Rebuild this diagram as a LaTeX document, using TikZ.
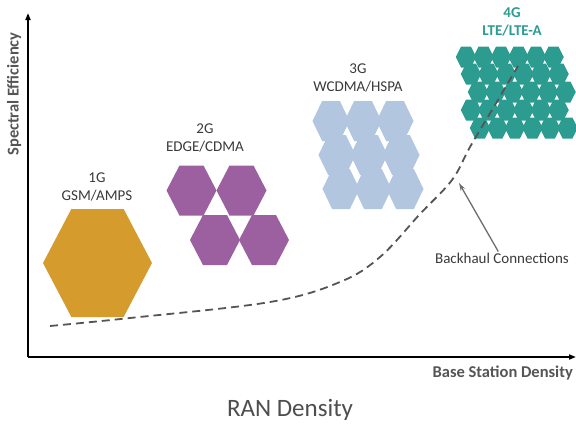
\documentclass[tikz,border=0pt]{standalone}
\usepackage{fontspec}
\setmainfont{Carlito}
\usetikzlibrary{arrows.meta,calc,positioning}
\definecolor{RanGold}{HTML}{D59B2D}
\definecolor{RanPurple}{HTML}{9C5FA0}
\definecolor{RanSky}{HTML}{B3C6DF}
\definecolor{RanTeal}{HTML}{2C9C91}
\definecolor{RanInk}{HTML}{3A3A3A}
\definecolor{RanGrey}{HTML}{555555}
\definecolor{RanDash}{HTML}{555555}

\begin{document}
\begin{tikzpicture}[x=1pt, y=-1pt,
    every node/.style={font=\fontsize{15}{18}\selectfont, text=RanInk, inner sep=1pt},
    hexcell/.pic={\fill[pic actions] (-0.5,0) -- (-0.24,-0.5) -- (0.24,-0.5) -- (0.5,0) -- (0.24,0.5) -- (-0.24,0.5) -- cycle;},
    gen/.style={align=center},
    axislabel/.style={font=\fontsize{16.5}{18}\selectfont\bfseries, text=RanGrey}]
    \useasboundingbox (0,0) rectangle (576,426);

    % axes
    \coordinate (origin) at (28,357);
    \coordinate (ytop) at (28,13);
    \coordinate (xend) at (576,357);
    \draw[-{Triangle[length=7pt,width=5pt]}, line width=2pt] (origin) -- (ytop);
    \draw[-{Triangle[length=7pt,width=5pt]}, line width=2pt] (origin) -- (xend);
    \node[axislabel, rotate=90] (ylab) at (14,94) {Spectral Efficiency};
    \node[axislabel, anchor=east] (xlab) at (574,373) {Base Station Density};

    % 1G
    \pic[fill=RanGold, xscale=109, yscale=108] at (97.5,263) {hexcell};
    \node[gen] (g1) at (97,187) {1G\\GSM/AMPS};

    % 2G
    \foreach \cx/\cy in {191.5/190.5, 241.5/190.5, 215/240, 264/240}
      \pic[fill=RanPurple, xscale=50, yscale=50] at (\cx,\cy) {hexcell};
    \node[gen] (g2) at (205,138) {2G\\EDGE/CDMA};

    % 3G
    \foreach \cy/\dx in {121/0, 155/6, 189/10}
      \foreach \c in {0,1,2}
        \pic[fill=RanSky, xscale=37, yscale=40] at ({331+\dx+32*\c},\cy) {hexcell};
    \node[gen] (g3) at (358,78) {3G\\WCDMA/HSPA};

    % 4G
    \foreach \cy/\dx in {57/0, 74/5, 92/12, 110/5, 128/14}
      \foreach \c in {0,...,5}
        \pic[fill=RanTeal, xscale=20.5, yscale=21] at ({466+\dx+17.5*\c},\cy) {hexcell};
    \node[gen, text=RanTeal, font=\fontsize{15}{18}\selectfont\bfseries] (g4) at (512,22) {4G\\LTE/LTE-A};

    % backhaul curve
    \draw[RanDash, line width=1.8pt, dash pattern=on 8pt off 5pt] plot[smooth, tension=0.6] coordinates {(50,326) (130,318) (270,302) (340,282) (380,257) (420,214) (452,180) (470,147) (495,105) (518,66)};
    \coordinate (bhtip) at (459,183);
    \node (bh) at (502,258) {Backhaul Connections};
    \draw[-{Stealth[length=8pt,width=5pt]}, RanGrey!85, line width=1.3pt] (bh) -- (bhtip);

    \node[font=\fontsize{25}{28}\selectfont, text=RanInk!90] (ran) at (290,410) {RAN Density};
\end{tikzpicture}
\end{document}
